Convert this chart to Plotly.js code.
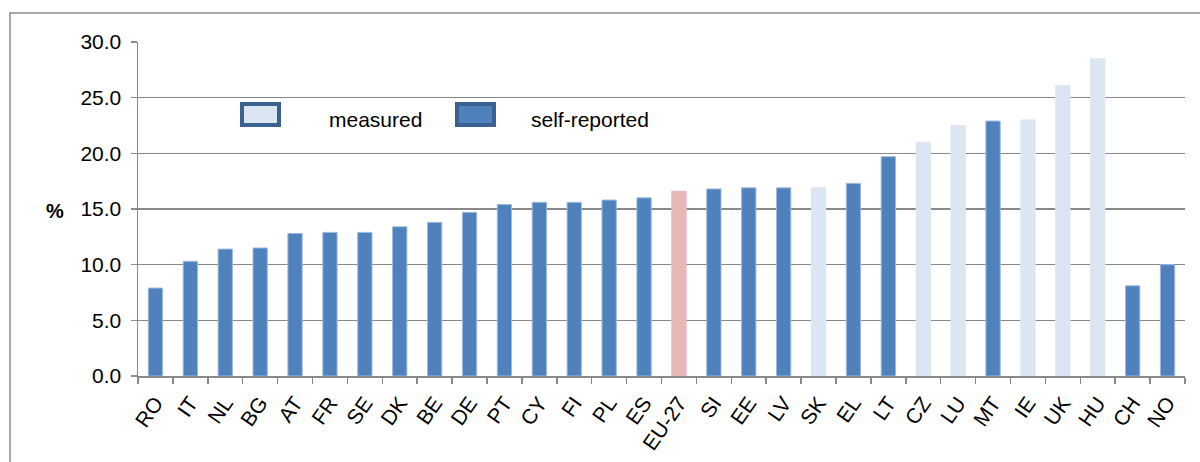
<!DOCTYPE html>
<html>
<head>
<meta charset="utf-8">
<script src="https://cdn.plot.ly/plotly-3.0.1.min.js"></script>
<style>
  html, body { margin: 0; padding: 0; background: #fff; }
  #chart { width: 1200px; height: 462px; }
</style>
</head>
<body>
<div id="chart"></div>
<script>
// Categories (countries) in chart order
const countries = ["RO","IT","NL","BG","AT","FR","SE","DK","BE","DE","PT","CY","FI","PL","ES","EU-27","SI","EE","LV","SK","EL","LT","CZ","LU","MT","IE","UK","HU","CH","NO"];
// Obesity prevalence (%) per country
const values = [7.9,10.3,11.4,11.5,12.8,12.9,12.9,13.4,13.8,14.7,15.4,15.6,15.6,15.8,16.0,16.6,16.8,16.9,16.9,16.9,17.3,19.7,21.0,22.5,22.9,23.0,26.1,28.5,8.1,10.0];
// Data type per country: "m" = measured, "s" = self-reported, "eu" = EU average
const dataType = ["s","s","s","s","s","s","s","s","s","s","s","s","s","s","s","eu","s","s","s","m","s","s","m","m","s","m","m","m","s","s"];
const yTicks = [0,5,10,15,20,25,30];

const selfReported = values.map((v,i) => dataType[i] === "s" ? v : null);
const measured = values.map((v,i) => dataType[i] === "m" ? v : null);
const euAvg = values.map((v,i) => dataType[i] === "eu" ? v : null);

const FONT = "Liberation Sans, Arial, sans-serif";

const traces = [
  { type: "bar", x: countries, y: selfReported, name: "self-reported", showlegend: false,
    marker: { color: "#4F81BD", line: { color: "#9DB9DE", width: 1 } } },
  { type: "bar", x: countries, y: measured, name: "measured", showlegend: false,
    marker: { color: "#DCE6F2", line: { color: "#DCE6F2", width: 1 } } },
  { type: "bar", x: countries, y: euAvg, name: "EU-27", showlegend: false,
    marker: { color: "#E6B9B8", line: { color: "#E6B9B8", width: 1 } } }
];

// plot area: x 138..1185, y 42..376
const PW = 1047, PH = 334;
const px = v => (v - 138) / PW;
const py = v => (376 - v) / PH;

const layout = {
  width: 1200, height: 462,
  margin: { l: 138, r: 15, t: 42, b: 86 },
  paper_bgcolor: "#fff", plot_bgcolor: "#fff",
  barmode: "overlay",
  bargap: 0.59,
  font: { family: FONT, color: "#000", size: 21 },
  xaxis: {
    type: "category",
    tickangle: -55,
    tickfont: { family: FONT, size: 21, color: "#000" },
    ticklabelstandoff: 5,
    showgrid: false,
    showline: true, linecolor: "#898989", linewidth: 1.5,
    ticks: "outside", ticklen: 6, tickcolor: "#898989", tickwidth: 1.5,
    tickson: "boundaries",
    zeroline: false
  },
  yaxis: {
    range: [0, 30],
    tickvals: yTicks,
    tickformat: ".1f",
    tickfont: { family: FONT, size: 21, color: "#000" },
    ticklabelstandoff: 5,
    showgrid: true, gridcolor: "#898989", gridwidth: 1.5,
    showline: true, linecolor: "#898989", linewidth: 1.5,
    ticks: "outside", ticklen: 6, tickcolor: "#898989", tickwidth: 1.5,
    zeroline: false
  },
  shapes: [
    // outer frame
    { type: "rect", xref: "paper", yref: "paper", x0: px(10), x1: px(1260), y0: py(520), y1: py(13),
      line: { color: "#8C8C8C", width: 1.5 }, fillcolor: "rgba(0,0,0,0)", layer: "below" },
    // legend swatch: measured
    { type: "rect", xref: "paper", yref: "paper", x0: px(242), x1: px(279), y0: py(125), y1: py(104),
      line: { color: "#3B6190", width: 4 }, fillcolor: "#DCE6F2" },
    // legend swatch: self-reported
    { type: "rect", xref: "paper", yref: "paper", x0: px(457), x1: px(494), y0: py(125), y1: py(104),
      line: { color: "#3B6190", width: 4 }, fillcolor: "#4F81BD" }
  ],
  annotations: [
    { xref: "paper", yref: "paper", x: px(327), y: py(120), xanchor: "left", yanchor: "middle",
      text: "measured", showarrow: false, font: { family: FONT, size: 21, color: "#000" } },
    { xref: "paper", yref: "paper", x: px(529), y: py(120), xanchor: "left", yanchor: "middle",
      text: "self-reported", showarrow: false, font: { family: FONT, size: 21, color: "#000" } },
    { xref: "paper", yref: "paper", x: px(66), y: py(211), xanchor: "right", yanchor: "middle",
      text: "<b>%</b>", showarrow: false, font: { family: FONT, size: 20, color: "#000" } }
  ]
};

Plotly.newPlot("chart", traces, layout, { staticPlot: true, displayModeBar: false });
</script>
</body>
</html>
